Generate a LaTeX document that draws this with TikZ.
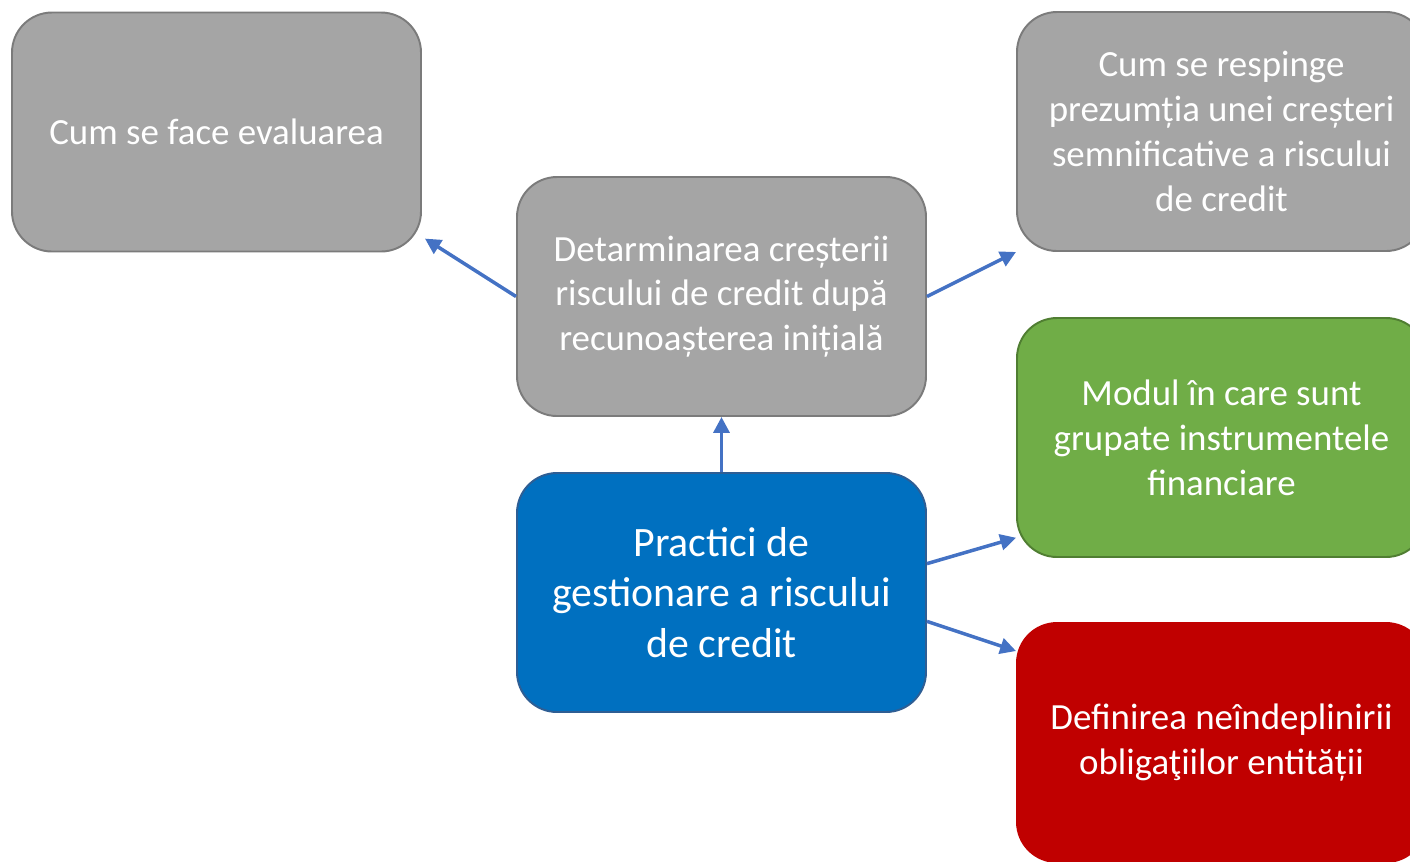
\documentclass[tikz,border=0pt]{standalone}
\usepackage{fontspec}
\setmainfont{Carlito}
\usepackage{tikz}
\usetikzlibrary{positioning, arrows.meta}
\usepackage{xcolor}

\definecolor{boxgray}{HTML}{A5A5A5}
\definecolor{linegray}{HTML}{7B7B7B}
\definecolor{boxblue}{HTML}{0070C0}
\definecolor{lineblue}{HTML}{2E5E94}
\definecolor{boxgreen}{HTML}{70AD47}
\definecolor{linegreen}{HTML}{507E32}
\definecolor{boxred}{HTML}{C00000}
\definecolor{arrowblue}{HTML}{4472C4}

\begin{document}
\begin{tikzpicture}[node distance=5cm, on grid,
    box/.style={rectangle, rounded corners=0.8cm, minimum width=8.18cm, minimum height=4.78cm,
        align=center, text=white, line width=1.1pt, font=\fontsize{21}{25.5}\selectfont},
    grayBox/.style={box, fill=boxgray, draw=linegray},
    greenBox/.style={box, fill=boxgreen, draw=linegreen},
    redBox/.style={box, fill=boxred, draw=boxred},
    mainBox/.style={box, fill=boxblue, draw=lineblue, font=\fontsize{23.8}{28.9}\selectfont},
    >={Triangle[length=9pt, width=9pt]}]
    \useasboundingbox (0,0) rectangle (28.2,-17.22);

    \node[mainBox] (practice) at (14.43,-11.85) {Practici de\\gestionare a riscului\\de credit};
    \node[grayBox, above=5.92cm of practice] (detect) {Detarminarea creșterii\\riscului de credit după\\recunoașterea inițială};
    \node[grayBox, above left=3.29cm and 10.1cm of detect] (evaluate) {Cum se face evaluarea};
    \node[grayBox, above right=3.3cm and 10cm of detect] (rebut) {Cum se respinge\\prezumția unei creșteri\\semnificative a riscului\\de credit};
    \node[greenBox, above right=3.1cm and 10cm of practice] (group) {Modul în care sunt\\grupate instrumentele\\financiare};
    \node[redBox, below right=3cm and 10cm of practice] (default) {Definirea neîndeplinirii\\obligaţiilor entității};

    \path[->, arrowblue, line width=2pt]
        (practice) edge (detect)
        (detect.west) edge[shorten >=2pt] (evaluate.-27)
        (detect.east) edge (rebut.south west)
        (practice.8) edge (group.-154)
        (practice.-8) edge (default.156);
\end{tikzpicture}
\end{document}
